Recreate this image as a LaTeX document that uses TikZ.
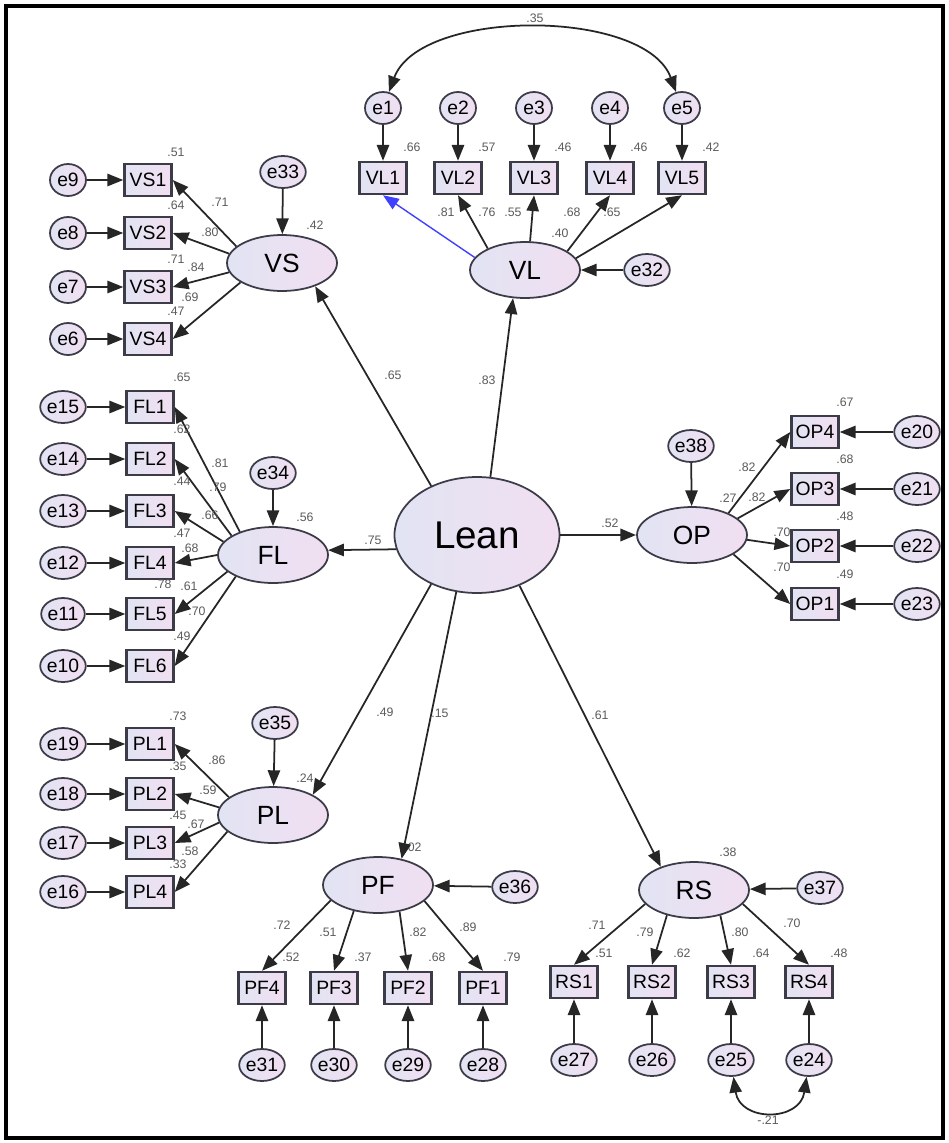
\documentclass[tikz,border=0pt]{standalone}
\usepackage{fontspec}
\setmainfont{Liberation Sans}
\usepackage{tikz}
\usetikzlibrary{arrows.meta,shapes.geometric,positioning}

\definecolor{lavL}{RGB}{226,228,243}
\definecolor{lavR}{RGB}{241,223,241}
\definecolor{edge}{RGB}{60,60,72}
\definecolor{coefgray}{RGB}{90,90,90}

\tikzset{
  latent/.style={ellipse,draw=edge,line width=1pt,left color=lavL,right color=lavR,
    minimum width=2.2cm,minimum height=1.12cm,inner sep=0pt,font=\fontsize{15}{15}\selectfont},
  ind/.style={rectangle,draw=edge,line width=1.4pt,left color=lavL,right color=lavR,
    minimum width=0.94cm,minimum height=0.64cm,inner sep=0pt,font=\fontsize{11}{11}\selectfont},
  err/.style={ellipse,draw=edge,line width=1pt,left color=lavL,right color=lavR,
    minimum width=0.72cm,minimum height=0.64cm,inner sep=0pt,font=\fontsize{11}{11}\selectfont},
  coef/.style={text=coefgray,inner sep=0pt,font=\fontsize{7}{7}\selectfont},
  arr/.style={->,line width=1pt,draw=black!85},
  cov/.style={<->,line width=1pt,draw=black!85},
  >={Triangle[length=9pt,width=7pt]}
}

\begin{document}
\begin{tikzpicture}[x=0.02cm,y=-0.02cm]
\useasboundingbox (0,0) rectangle (948,1143);
\draw[line width=2pt] (6,6) rectangle (943,1138);

\node[latent,minimum width=3.3cm,minimum height=2.32cm,font=\fontsize{22}{22}\selectfont] (Lean) at (477,535) {Lean};

% VL
\node[latent] (VL) at (525,270) {VL};
\node[err] (e32) at (647,270) {e32};
\draw[arr] (e32) -- (VL);
\node[coef] (rVL) at (560,233) {.40};
\foreach \i/\x/\rs/\ld/\lx in {1/383/.66/.81/446, 2/458/.57/.76/487, 3/534/.46/.55/513, 4/610/.46/.68/572, 5/682/.42/.65/612}{
  \node[ind] (VL\i) at (\x,178) {VL\i};
  \node[err] (e\i) at (\x,108) {e\i};
  \draw[arr] (e\i) -- (VL\i);
  \node[coef] (rVL\i) at (\x+29,147) {\rs};
  \node[coef] (lVL\i) at (\lx,212) {\ld};
}
\draw[arr,draw=blue!75,line width=0.8pt] (VL.166) -- (VL1.south);
\foreach \i/\a in {2/150,3/80,4/24,5/13}
  \draw[arr] (VL.\a) -- (VL\i.south);
\draw[cov] (e1) .. controls (420,8) and (645,8) .. (e5);
\node[coef] (c15) at (535,18) {.35};

% VS
\node[latent] (VS) at (282,263) {VS};
\node[err] (e33) at (283,172) {e33};
\draw[arr] (e33) -- (VS);
\node[coef] (rVS) at (315,225) {.42};
\foreach \i/\y/\e/\a/\rs/\ld/\lx/\ly in {1/180/9/160/.51/.71/220/202, 2/233/8/170/.64/.80/210/232, 3/287/7/190/.71/.84/196/267, 4/339/6/205/.47/.69/190/297}{
  \node[ind] (VS\i) at (148,\y) {VS\i};
  \node[err] (e\e) at (68,\y) {e\e};
  \draw[arr] (e\e) -- (VS\i);
  \draw[arr] (VS.\a) -- (VS\i.east);
  \node[coef] (rVS\i) at (176,\y-28) {\rs};
  \node[coef] (lVS\i) at (\lx,\ly) {\ld};
}

% FL
\node[latent] (FL) at (273,555) {FL};
\node[err] (e34) at (273,473) {e34};
\draw[arr] (e34) -- (FL);
\node[coef] (rFL) at (305,517) {.56};
\foreach \i/\y/\e/\a/\rs in {1/407/15/145/.65, 2/459/14/155/.62, 3/511/13/165/.44, 4/563/12/180/.47, 6/666/10/210/.49}{
  \node[ind] (FL\i) at (150,\y) {FL\i};
  \node[err] (e\e) at (63,\y) {e\e};
  \draw[arr] (e\e) -- (FL\i);
  \draw[arr] (FL.\a) -- (FL\i.east);
  \node[coef] (rFL\i) at (182,\y-30) {\rs};
}
\node[ind] (FL5) at (150,614) {FL5};
\node[err] (e11) at (63,614) {e11};
\draw[arr] (e11) -- (FL5);
\draw[arr] (FL.200) -- (FL5.east);
\node[coef] (rFL5) at (189,586) {.61};
\foreach \i/\ld/\lx/\ly in {1/.81/220/463, 2/.79/218/487, 3/.66/210/515, 4/.68/190/548, 5/.78/163/584, 6/.70/197/611}
  \node[coef] (lFL\i) at (\lx,\ly) {\ld};

% PL
\node[latent] (PL) at (273,815) {PL};
\node[err] (e35) at (275,723) {e35};
\draw[arr] (e35) -- (PL);
\node[coef] (rPL) at (305,778) {.24};
\foreach \i/\y/\e/\a/\rs/\ld/\lx/\ly in {1/744/19/158/.73/.86/217/760, 2/794/18/172/.35/.59/208/790, 3/843/17/188/.45/.67/196/824, 4/892/16/200/.33/.58/190/851}{
  \node[ind] (PL\i) at (150,\y) {PL\i};
  \node[err] (e\e) at (63,\y) {e\e};
  \draw[arr] (e\e) -- (PL\i);
  \draw[arr] (PL.\a) -- (PL\i.east);
  \node[coef] (rPL\i) at (178,\y-28) {\rs};
  \node[coef] (lPL\i) at (\lx,\ly) {\ld};
}

% OP
\node[latent] (OP) at (692,535) {OP};
\node[err] (e38) at (691,446) {e38};
\draw[arr] (e38) -- (OP);
\node[coef] (rOP) at (728,498) {.27};
\foreach \i/\y/\e/\a/\rs/\ld/\lx/\ly in {4/432/20/31/.67/.82/747/467, 3/489/21/20/.68/.82/757/497, 2/546/22/355/.48/.70/782/532, 1/604/23/335/.49/.70/782/567}{
  \node[ind] (OP\i) at (815,\y) {OP\i};
  \node[err] (e\e) at (917,\y) {e\e};
  \draw[arr] (e\e) -- (OP\i);
  \draw[arr] (OP.\a) -- (OP\i.west);
  \node[coef] (rOP\i) at (845,\y-30) {\rs};
  \node[coef] (lOP\i) at (\lx,\ly) {\ld};
}

% PF
\node[latent] (PF) at (378,885) {PF};
\node[err] (e36) at (515,887) {e36};
\draw[arr] (e36) -- (PF);
\node[coef] (rPF) at (413,847) {.02};
\foreach \i/\x/\e/\a/\rs/\ld/\lx/\ly in {4/262/31/198/.52/.72/282/925, 3/334/30/227/.37/.51/328/932, 2/408/29/309/.68/.82/418/932, 1/483/28/341/.79/.89/468/927}{
  \node[ind] (PF\i) at (\x,988) {PF\i};
  \node[err] (e\e) at (\x,1065) {e\e};
  \draw[arr] (e\e) -- (PF\i);
  \draw[arr] (PF.\a) -- (PF\i.north);
  \node[coef] (rPF\i) at (\x+29,957) {\rs};
  \node[coef] (lPF\i) at (\lx,\ly) {\ld};
}

% RS
\node[latent] (RS) at (694,890) {RS};
\node[err] (e37) at (820,888) {e37};
\draw[arr] (e37) -- (RS);
\node[coef] (rRS) at (728,852) {.38};
\foreach \i/\x/\e/\a/\rs/\ld/\lx/\ly in {1/574/27/196/.51/.71/597/925, 2/652/26/223/.62/.79/645/932, 3/731/25/316/.64/.80/740/932, 4/809/24/344/.48/.70/792/923}{
  \node[ind] (RS\i) at (\x,982) {RS\i};
  \node[err] (e\e) at (\x,1060) {e\e};
  \draw[arr] (e\e) -- (RS\i);
  \draw[arr] (RS.\a) -- (RS\i.north);
  \node[coef] (rRS\i) at (\x+30,953) {\rs};
  \node[coef] (lRS\i) at (\lx,\ly) {\ld};
}
\draw[cov] (e25) .. controls (740,1122) and (800,1122) .. (e24);
\node[coef] (c2425) at (768,1120) {-.21};

% Lean paths
\foreach \t/\a/\b/\ld/\lx/\ly in {VS/133/-35/.65/393/375, VL/77/247/.83/487/380, FL/190/5/.75/373/540, PL/227/27/.49/385/712, PF/250/48/.15/440/713, RS/-50/145/.61/600/715}{
  \draw[arr] (Lean.\a) -- (\t.\b);
  \node[coef] (l\t) at (\lx,\ly) {\ld};
}
\draw[arr,line width=1.5pt] (Lean.0) -- (OP.180);
\node[coef] (lOP) at (610,523) {.52};
\end{tikzpicture}
\end{document}
